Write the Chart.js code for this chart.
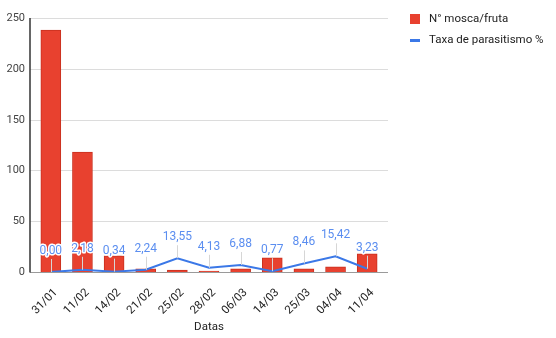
<!DOCTYPE html>
<html>
<head>
<meta charset="utf-8">
<script src="https://cdn.jsdelivr.net/npm/chart.js@4"></script>
<style>
  html, body { margin: 0; padding: 0; background: #fff; overflow: hidden; }
  #wrap { width: 556px; height: 338px; }
  canvas { display: block; }
</style>
</head>
<body>
<div id="wrap"><canvas id="grafico" width="556" height="338"></canvas></div>
<script>
// datas das coletas
const datas = ['31/01', '11/02', '14/02', '21/02', '25/02', '28/02', '06/03', '14/03', '25/03', '04/04', '11/04'];
// N° mosca/fruta
const moscaFruta = [238, 118, 16, 3, 2, 1, 3, 14, 3, 5, 18];
// taxa de parasitismo %
const parasitismo = [0.00, 2.18, 0.34, 2.24, 13.55, 4.13, 6.88, 0.77, 8.46, 15.42, 3.23];
const yTicks = [0, 50, 100, 150, 200, 250];

const VERMELHO = '#e8412f';
const AZUL = '#3b78e7';
const AZUL_TEXTO = '#5b8ef0';
const FOLGA = 5; // grade passa um pouco das barras dos dois lados

// grade horizontal, eixo vertical e seus rótulos, um pouco além da área das categorias
const grade = {
  id: 'grade',
  beforeDatasetsDraw(chart) {
    const ctx = chart.ctx;
    const a = chart.chartArea;
    const y = chart.scales.y;
    const x0 = a.left - FOLGA, x1 = a.right + FOLGA;
    ctx.save();
    ctx.lineWidth = 1;
    ctx.font = '11px Roboto';
    ctx.textAlign = 'right';
    ctx.textBaseline = 'middle';
    yTicks.forEach(v => {
      const py = Math.round(y.getPixelForValue(v)) + 0.5;
      ctx.strokeStyle = v === 0 ? '#9a9a9a' : '#dcdcdc';
      ctx.beginPath();
      ctx.moveTo(x0, py);
      ctx.lineTo(x1, py);
      ctx.stroke();
      ctx.fillStyle = '#444';
      ctx.fillText(String(v), x0 - 5, py);
    });
    ctx.strokeStyle = '#333';
    ctx.lineWidth = 1.5;
    ctx.beginPath();
    ctx.moveTo(x0, a.top);
    ctx.lineTo(x0, a.bottom + 0.5);
    ctx.stroke();
    ctx.restore();
  }
};

// rótulos de valor acima de cada ponto da linha, com haste
const rotulosLinha = {
  id: 'rotulosLinha',
  afterDatasetsDraw(chart) {
    const ctx = chart.ctx;
    const meta = chart.getDatasetMeta(1);
    const dados = chart.data.datasets[1].data;
    ctx.save();
    ctx.font = '12px Roboto';
    ctx.textAlign = 'center';
    ctx.textBaseline = 'middle';
    meta.data.forEach((p, i) => {
      ctx.strokeStyle = '#d6d6d6';
      ctx.lineWidth = 1;
      ctx.beginPath();
      ctx.moveTo(Math.round(p.x) + 0.5, p.y);
      ctx.lineTo(Math.round(p.x) + 0.5, p.y - 13);
      ctx.stroke();
      const txt = dados[i].toFixed(2).replace('.', ',');
      ctx.strokeStyle = '#fff';
      ctx.lineWidth = 3;
      ctx.lineJoin = 'round';
      ctx.strokeText(txt, p.x, p.y - 21);
      ctx.fillStyle = AZUL_TEXTO;
      ctx.fillText(txt, p.x, p.y - 21);
    });
    ctx.restore();
  }
};

// legenda à direita
const legenda = {
  id: 'legenda',
  afterDraw(chart) {
    const ctx = chart.ctx;
    const ds = chart.data.datasets;
    ctx.save();
    ctx.font = '11.5px Roboto';
    ctx.textBaseline = 'middle';
    ctx.fillStyle = VERMELHO;
    ctx.fillRect(410, 14, 10, 10);
    ctx.fillStyle = '#222';
    ctx.fillText(ds[0].label, 429, 19);
    ctx.fillStyle = AZUL;
    ctx.fillRect(410, 39, 10, 3);
    ctx.fillStyle = '#222';
    ctx.fillText(ds[1].label, 429, 40);
    ctx.restore();
  }
};

new Chart(document.getElementById('grafico'), {
  data: {
    labels: datas,
    datasets: [
      {
        type: 'bar',
        label: 'N° mosca/fruta',
        data: moscaFruta,
        backgroundColor: VERMELHO,
        borderColor: '#c9301f',
        borderWidth: 1,
        barThickness: 20,
        order: 2
      },
      {
        type: 'line',
        label: 'Taxa de parasitismo %',
        data: parasitismo,
        borderColor: AZUL,
        borderWidth: 2,
        pointRadius: 0,
        tension: 0,
        order: 1
      }
    ]
  },
  options: {
    responsive: false,
    animation: false,
    layout: { padding: { top: 18, right: 173, left: 0, bottom: 0 } },
    plugins: {
      legend: { display: false },
      tooltip: { enabled: false }
    },
    scales: {
      x: {
        offset: true,
        grid: { display: false },
        border: { display: false },
        ticks: {
          color: '#222',
          font: { family: 'Roboto', size: 11.5 },
          minRotation: 45,
          maxRotation: 45,
          labelOffset: 5,
          padding: 6
        },
        title: {
          display: true,
          text: 'Datas',
          color: '#222',
          font: { family: 'Roboto', size: 11.5 },
          padding: { top: 0, bottom: 4 }
        },
        afterFit(scale) { scale.height = 66; }
      },
      y: {
        min: 0,
        max: 250,
        afterBuildTicks(scale) { scale.ticks = yTicks.map(v => ({ value: v })); },
        grid: { display: false },
        border: { display: false },
        ticks: { display: false },
        afterFit(scale) { scale.width = 35; }
      }
    }
  },
  plugins: [grade, rotulosLinha, legenda]
});
</script>
</body>
</html>
